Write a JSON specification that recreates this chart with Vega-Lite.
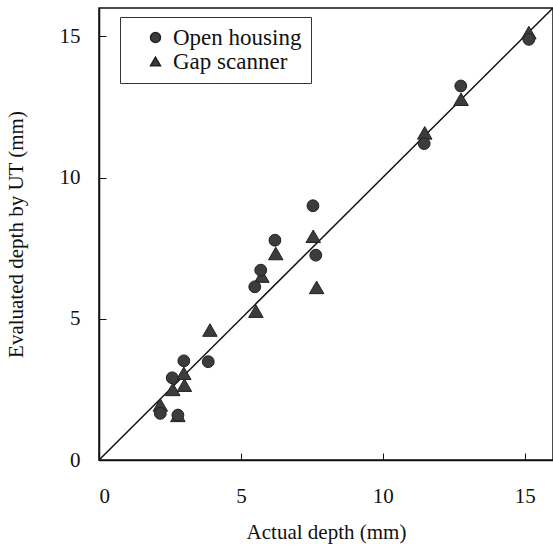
{
  "$schema": "https://vega.github.io/schema/vega-lite/v6.json",
  "width": 454,
  "height": 452,
  "autosize": "none",
  "padding": {"left": 99, "top": 8, "right": 0, "bottom": 87},
  "background": "white",
  "datasets": {
    "points": [
      {"series": "Gap scanner", "actual": 2.16, "ut": 1.95},
      {"series": "Gap scanner", "actual": 2.78, "ut": 1.58},
      {"series": "Gap scanner", "actual": 2.6, "ut": 2.5},
      {"series": "Gap scanner", "actual": 3.01, "ut": 2.65},
      {"series": "Gap scanner", "actual": 2.99, "ut": 3.07},
      {"series": "Gap scanner", "actual": 3.91, "ut": 4.6},
      {"series": "Gap scanner", "actual": 5.53, "ut": 5.27},
      {"series": "Gap scanner", "actual": 5.74, "ut": 6.51},
      {"series": "Gap scanner", "actual": 6.23, "ut": 7.31},
      {"series": "Gap scanner", "actual": 7.55, "ut": 7.92},
      {"series": "Gap scanner", "actual": 7.67, "ut": 6.11},
      {"series": "Gap scanner", "actual": 11.48, "ut": 11.58},
      {"series": "Gap scanner", "actual": 12.76, "ut": 12.77},
      {"series": "Gap scanner", "actual": 15.15, "ut": 15.13},
      {"series": "Open housing", "actual": 2.16, "ut": 1.65},
      {"series": "Open housing", "actual": 2.78, "ut": 1.59},
      {"series": "Open housing", "actual": 2.58, "ut": 2.91},
      {"series": "Open housing", "actual": 2.99, "ut": 3.51},
      {"series": "Open housing", "actual": 3.85, "ut": 3.48},
      {"series": "Open housing", "actual": 5.49, "ut": 6.13},
      {"series": "Open housing", "actual": 5.7, "ut": 6.72},
      {"series": "Open housing", "actual": 6.2, "ut": 7.78},
      {"series": "Open housing", "actual": 7.54, "ut": 9.0},
      {"series": "Open housing", "actual": 7.64, "ut": 7.25},
      {"series": "Open housing", "actual": 11.46, "ut": 11.2},
      {"series": "Open housing", "actual": 12.75, "ut": 13.24},
      {"series": "Open housing", "actual": 15.15, "ut": 14.89}
    ],
    "diag": [{"x": 0, "y": 0}, {"x": 16, "y": 16}]
  },
  "config": {
    "font": "Liberation Serif",
    "view": {"stroke": "#111", "strokeWidth": 1.5},
    "axis": {
      "grid": false,
      "domainColor": "#111",
      "domainWidth": 1.5,
      "tickColor": "#111",
      "tickWidth": 1,
      "tickSize": -7,
      "labelFont": "Liberation Serif",
      "labelFontSize": 21,
      "labelColor": "#111",
      "titleFont": "Liberation Serif",
      "titleFontSize": 21,
      "titleFontWeight": "normal",
      "titleColor": "#111"
    },
    "legend": {
      "labelFont": "Liberation Serif",
      "labelFontSize": 22,
      "labelColor": "#111"
    }
  },
  "encoding": {
    "x": {
      "type": "quantitative",
      "scale": {"domain": [0, 16], "nice": false},
      "axis": {"values": [0, 5, 10, 15], "labelPadding": 32, "title": "Actual depth (mm)", "titlePadding": 15}
    },
    "y": {
      "type": "quantitative",
      "scale": {"domain": [0, 16], "nice": false},
      "axis": {"values": [0, 5, 10, 15], "labelPadding": 26, "title": "Evaluated depth by UT (mm)", "titlePadding": 33}
    }
  },
  "layer": [
    {
      "data": {"name": "diag"},
      "mark": {"type": "line", "color": "#111", "strokeWidth": 1.5, "clip": true},
      "encoding": {
        "x": {"field": "x", "type": "quantitative"},
        "y": {"field": "y", "type": "quantitative"}
      }
    },
    {
      "data": {"name": "points"},
      "transform": [{"filter": "datum.series === 'Gap scanner'"}],
      "mark": {"type": "point", "filled": true, "color": "#3c3c3c", "stroke": "#222", "strokeWidth": 1, "opacity": 1, "size": 210},
      "encoding": {
        "x": {"field": "actual", "type": "quantitative"},
        "y": {"field": "ut", "type": "quantitative"},
        "shape": {
          "field": "series", "type": "nominal",
          "scale": {"domain": ["Open housing", "Gap scanner"], "range": ["circle", "triangle-up"]}
        }
      }
    },
    {
      "data": {"name": "points"},
      "transform": [{"filter": "datum.series === 'Open housing'"}],
      "mark": {"type": "point", "filled": true, "color": "#3c3c3c", "stroke": "#222", "strokeWidth": 1, "opacity": 1, "size": 140},
      "encoding": {
        "x": {"field": "actual", "type": "quantitative"},
        "y": {"field": "ut", "type": "quantitative"},
        "shape": {
          "field": "series", "type": "nominal",
          "scale": {"domain": ["Open housing", "Gap scanner"], "range": ["circle", "triangle-up"]},
          "legend": {
            "title": null,
            "orient": "none",
            "legendX": 21,
            "legendY": 9,
            "strokeColor": "#333",
            "fillColor": "white",
            "padding": 9,
            "symbolOffset": 15,
            "symbolSize": 100,
            "symbolFillColor": "#3c3c3c",
            "symbolStrokeColor": "#222",
            "labelFont": "Liberation Serif",
            "labelFontSize": 23,
            "labelColor": "#111",
            "labelOffset": 6,
            "rowPadding": 0,
            "labelLimit": 300
          }
        }
      }
    }
  ]
}
